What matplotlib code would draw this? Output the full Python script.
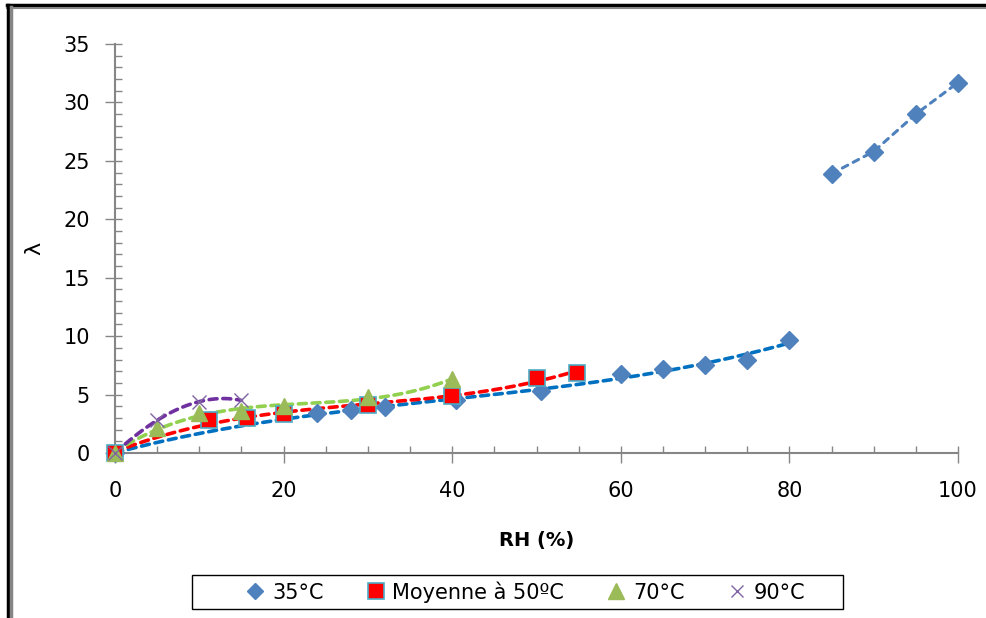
import numpy as np
import matplotlib
matplotlib.use("Agg")
import matplotlib.pyplot as plt
from matplotlib.lines import Line2D
from matplotlib.patches import Rectangle
from matplotlib.ticker import MultipleLocator

# 35 C
rh_35 = [0, 24, 28, 32, 40.5, 50.5, 60, 65, 70, 75, 80]
lam_35 = [0, 3.4, 3.7, 3.9, 4.5, 5.3, 6.8, 7.2, 7.5, 8.0, 9.7]
rh_35_high = [85, 90, 95, 100]
lam_35_high = [23.9, 25.8, 29.0, 31.7]

# moyenne 50 C
rh_50 = [0, 11.2, 15.6, 20, 30, 40, 50, 54.8]
lam_50 = [0, 2.8, 3.0, 3.3, 4.1, 4.9, 6.4, 6.85]

# 70 C
rh_70 = [0, 5, 10, 15, 20, 30, 40]
lam_70 = [0, 2.1, 3.4, 3.6, 4.0, 4.8, 6.3]

# 90 C
rh_90 = [0, 5, 10, 15]
lam_90 = [0, 2.8, 4.4, 4.5]

grey = "#868686"

fig = plt.figure(figsize=(9.86, 6.18), dpi=100)
ax = fig.add_axes([115/986, 1-453/618, (958-115)/986, (453-44)/618])


def trend(x, y, deg, color, lw=2.6):
    c = np.polyfit(x, y, deg)
    xs = np.linspace(min(x), max(x), 200)
    ax.plot(xs, np.polyval(c, xs), color=color, lw=lw, ls=(0, (2.2, 1.6)),
            dash_capstyle="round", zorder=2)


ax.plot(rh_35, lam_35, ls="none", marker="D", ms=9, color="#4F81BD", zorder=3, clip_on=False)
ax.plot(rh_35_high, lam_35_high, color="#4F81BD", lw=2.2, ls=(0, (2, 2)), marker="D", ms=9,
        dash_capstyle="round", zorder=3, clip_on=False)
ax.plot(rh_50, lam_50, ls="none", marker="s", ms=12, mfc="#FF0000", mec="#4BACC6", mew=1.2,
        zorder=4, clip_on=False)
ax.plot(rh_70, lam_70, ls="none", marker="^", ms=12, color="#9BBB59", zorder=5, clip_on=False)
ax.plot(rh_90, lam_90, ls="none", marker="x", ms=10, mew=1, color="#8064A2", zorder=6, clip_on=False)

trend(rh_35, lam_35, 3, "#0070C0")
trend(rh_50, lam_50, 3, "#FF0000")
trend(rh_70, lam_70, 3, "#92D050")
trend(rh_90, lam_90, 3, "#7030A0")

ax.set_xlim(0, 100)
ax.set_ylim(0, 35)
ax.xaxis.set_major_locator(MultipleLocator(20))
ax.xaxis.set_minor_locator(MultipleLocator(5))
ax.yaxis.set_major_locator(MultipleLocator(5))
ax.yaxis.set_minor_locator(MultipleLocator(1))
ax.xaxis.remove_overlapping_locs = False
ax.yaxis.remove_overlapping_locs = False

for s in ["top", "right"]:
    ax.spines[s].set_visible(False)
for s in ["left", "bottom"]:
    ax.spines[s].set_color(grey)
    ax.spines[s].set_linewidth(1.5)

ax.tick_params(which="major", direction="out", length=7, width=1, color=grey,
               labelsize=15, labelcolor="black")
ax.tick_params(axis="x", which="major", pad=13)
ax.tick_params(axis="y", which="major", pad=11)
ax.tick_params(which="minor", direction="in", length=5, width=1, color=grey)

ax.set_xlabel("RH (%)", fontsize=14, fontweight="bold", labelpad=22)
ax.set_ylabel("λ", fontsize=16, labelpad=14)

handles = [
    Line2D([], [], ls="none", marker="D", ms=8, color="#4F81BD"),
    Line2D([], [], ls="none", marker="s", ms=11, mfc="#FF0000", mec="#4BACC6", mew=1.2),
    Line2D([], [], ls="none", marker="^", ms=11, color="#9BBB59"),
    Line2D([], [], ls="none", marker="x", ms=9, mew=1, color="#8064A2"),
]
labels = ["35°C", "Moyenne à 50ºC", "70°C", "90°C"]
fig.legend(handles, labels, loc="center", bbox_to_anchor=(525/986, 1-592/618), ncol=4,
           fontsize=15, frameon=False, handlelength=1.0, handletextpad=0.3,
           columnspacing=2.0, borderpad=0, borderaxespad=0, handleheight=0.7)
# legend box, wider than the entries as in the original
fig.add_artist(Rectangle((192/986, 1-609/618), (843-192)/986, 34/618, transform=fig.transFigure,
                         fill=False, edgecolor="black", lw=1.0))

# outer frame (top and left edges)
fig.add_artist(Line2D([7/986, 1], [1-5/618, 1-5/618], color="black", lw=2.5))
fig.add_artist(Line2D([7/986, 1], [1-7.5/618, 1-7.5/618], color=grey, lw=1.5))
fig.add_artist(Line2D([7.5/986, 7.5/986], [0, 1-5/618], color="black", lw=2.5))
fig.add_artist(Line2D([10.5/986, 10.5/986], [0, 1-7/618], color=grey, lw=2.5))

fig.savefig("out.png", dpi=100)
